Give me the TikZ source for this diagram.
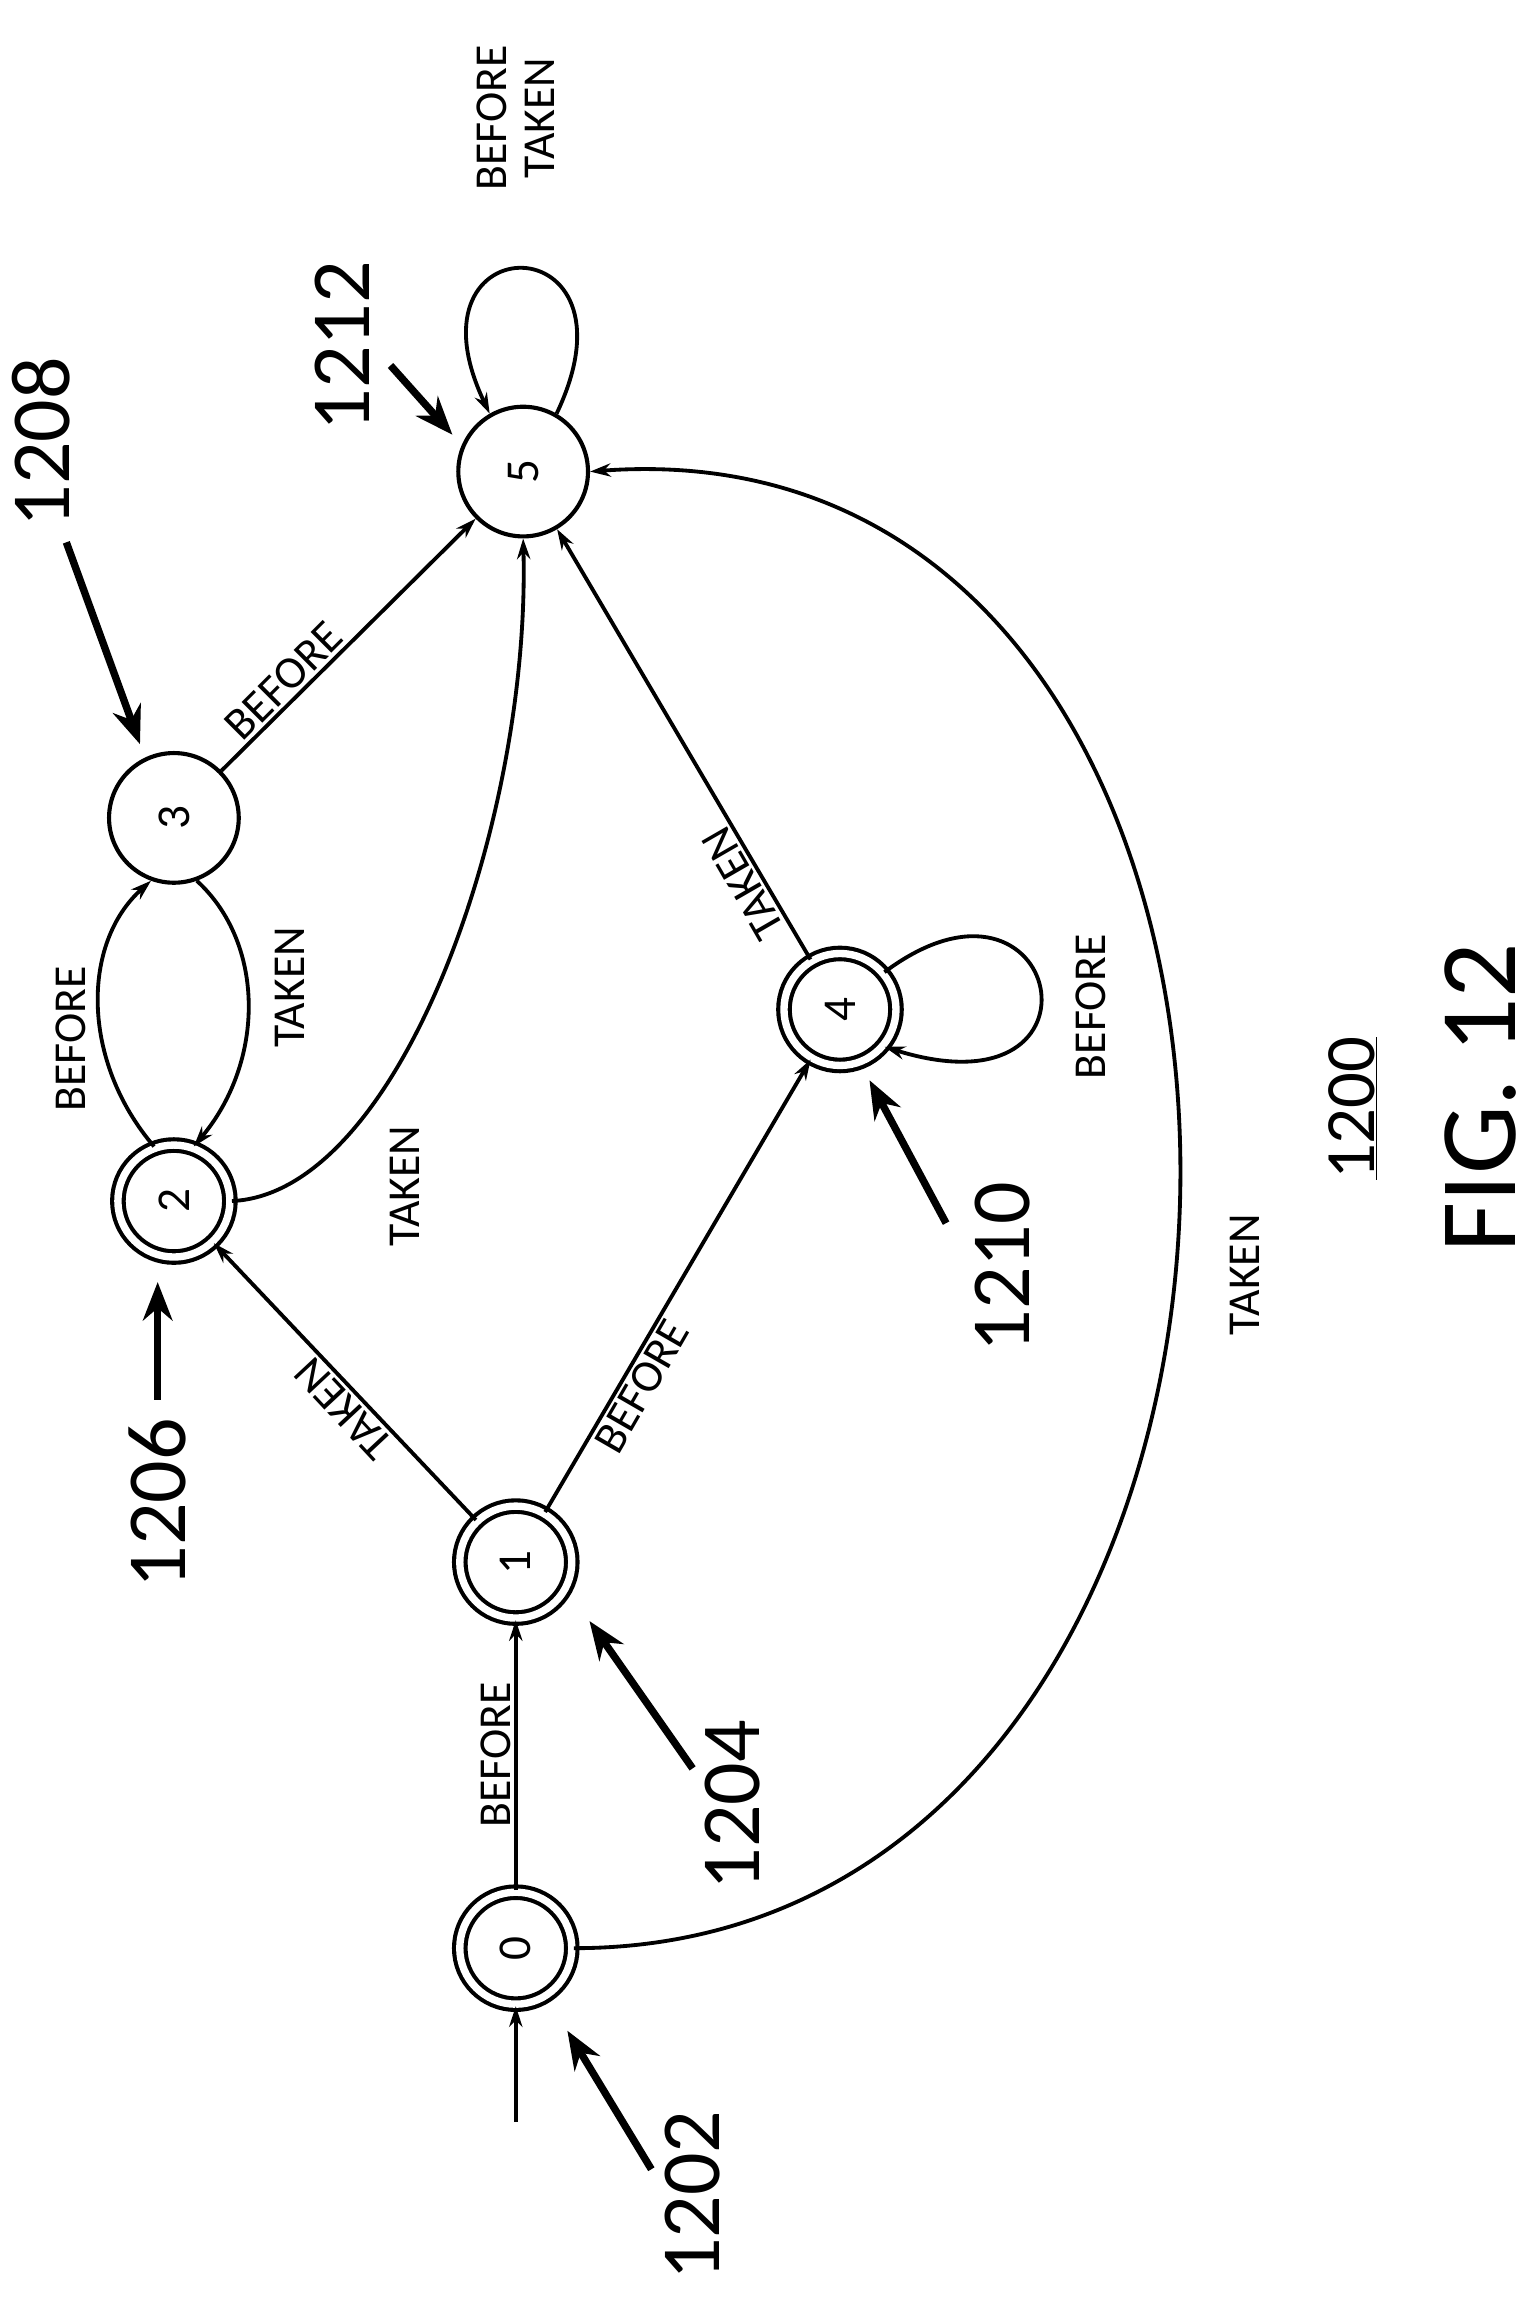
\documentclass[tikz,border=0pt]{standalone}
\usepackage{fontspec}
\setmainfont{Carlito}
\usetikzlibrary{arrows.meta}
\begin{document}
\begin{tikzpicture}[x=1pt,y=-1pt,
  st/.style={circle,draw,line width=2.8pt,minimum size=88pt,inner sep=0pt,font=\fontsize{32}{34}\selectfont},
  acc/.style={st,double,double distance=5pt,minimum size=76pt},
  ed/.style={line width=2.6pt,-{Stealth[length=14pt,width=9pt]}},
  lab/.style={font=\fontsize{31}{33}\selectfont,inner sep=2pt},
  ref/.style={line width=5pt,-{Stealth[length=26pt,width=20pt]}},
  num/.style={font=\fontsize{57}{59}\selectfont,rotate=90,inner sep=0pt}]
\useasboundingbox (0,0) rectangle (1045,1575);
\node[acc] (n0) at (350,1322) {\rotatebox{90}{0}};
\node[acc] (n1) at (350,1060) {\rotatebox{90}{1}};
\node[acc] (n2) at (118,815) {\rotatebox{90}{2}};
\node[st] (n3) at (118,555) {\rotatebox{90}{3}};
\node[acc] (n4) at (570,685) {\rotatebox{90}{4}};
\node[st] (n5) at (355,320) {\rotatebox{90}{5}};
\coordinate (init) at (350,1440);
\draw[ed] (init) -- (n0);
\draw[ed] (n0) -- node[lab,rotate=90,anchor=south]{BEFORE} (n1);
\draw[ed] (n1) -- node[lab,rotate=133,pos=0.45,anchor=south]{TAKEN} (n2);
\draw[ed] (n1) -- node[lab,rotate=60,pos=0.3,anchor=north]{BEFORE} (n4);
\draw[ed] (n2.110) .. controls (55,720) and (55,640) .. (n3.250);
\draw[ed] (n3.290) .. controls (180,640) and (180,720) .. (n2.70);
\node[lab,rotate=90] (l23) at (48,705) {BEFORE};
\node[lab,rotate=90] (l32) at (197,670) {TAKEN};
\draw[ed] (n2.east) .. controls (270,810) and (360,560) .. (n5.south);
\node[lab,rotate=90] (l25) at (275,805) {TAKEN};
\draw[ed] (n3) -- node[lab,rotate=45,pos=0.3,anchor=south]{BEFORE} (n5);
\draw[ed] (n4) -- node[lab,rotate=120,pos=0.2,anchor=south]{TAKEN} (n5);
\draw[ed] (n4.40) .. controls (720,570) and (760,760) .. (n4.-40);
\node[lab,rotate=90] (l44) at (740,683) {BEFORE};
\draw[ed] (n5.60) .. controls (440,150) and (270,150) .. (n5.120);
\node[lab,rotate=90,align=center] (l55) at (350,80) {BEFORE\\TAKEN};
\draw[ed] (n0.east) .. controls +(540,0) and +(540,-40) .. (n5.east);
\node[lab,rotate=90] (l05) at (845,865) {TAKEN};
% reference labels
\node[num] (r1202) at (470,1490) {1202};
\coordinate (r1202a) at (442,1472);
\draw[ref] (r1202a) -- (385,1378);
\node[num] (r1204) at (497,1225) {1204};
\coordinate (r1204a) at (470,1200);
\draw[ref] (r1204a) -- (400,1100);
\node[num] (r1206) at (107,1020) {1206};
\coordinate (r1206a) at (107,950);
\draw[ref] (r1206a) -- (107,870);
\node[num] (r1208) at (28,300) {1208};
\coordinate (r1208a) at (45,368);
\draw[ref] (r1208a) -- (95,505);
\node[num] (r1210) at (680,860) {1210};
\coordinate (r1210a) at (642,830);
\draw[ref] (r1210a) -- (590,733);
\node[num] (r1212) at (232,235) {1212};
\coordinate (r1212a) at (265,248);
\draw[ref] (r1212a) -- (307,295);
\node[font=\fontsize{48}{50}\selectfont,rotate=90] (fig) at (918,752) {\underline{1200}};
\node[font=\fontsize{74}{76}\selectfont,rotate=90] (figt) at (1005,745) {FIG. 12};
\end{tikzpicture}
\end{document}
